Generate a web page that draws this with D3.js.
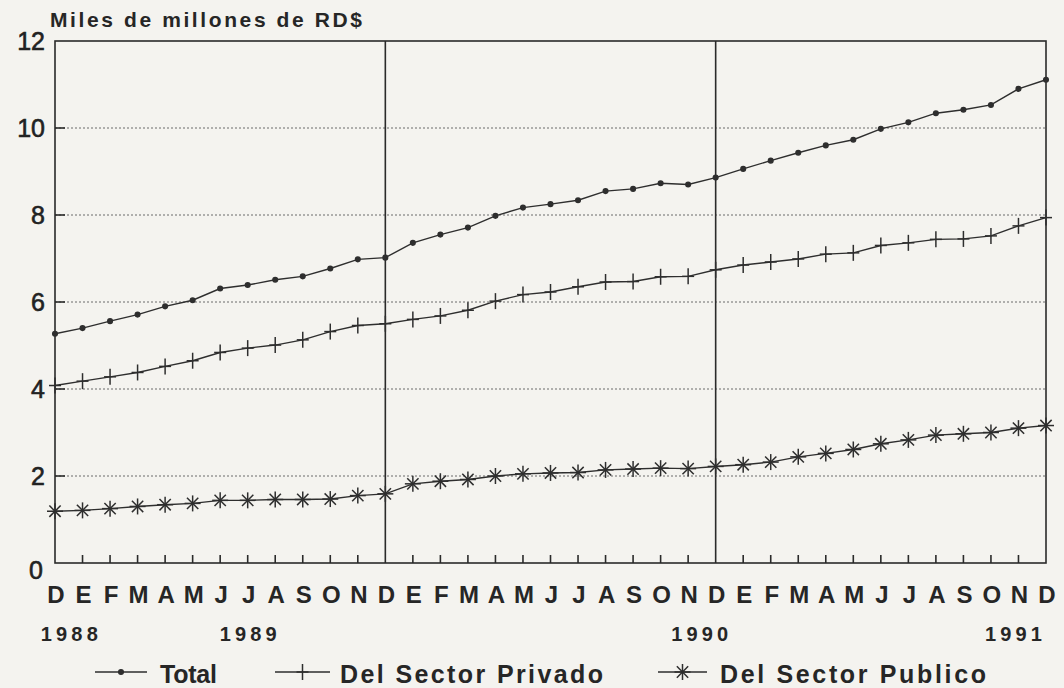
<!DOCTYPE html>
<html lang="es">
<head>
  <meta charset="utf-8">
  <script src="https://cdn.jsdelivr.net/npm/d3@7/dist/d3.min.js"></script>
  <style>
    body {
      margin: 0;
      background: #f4f3ef;
    }
    svg {
      display: block;
      font-family: "Liberation Sans", Arial, Helvetica, sans-serif;
    }
    .grid line {
      stroke: #6a6a6a;
      stroke-width: 1;
      stroke-dasharray: 2,2;
    }
    .frame {
      fill: none;
      stroke: #2a2a2a;
      stroke-width: 1.6;
    }
    .divider {
      stroke: #2a2a2a;
      stroke-width: 1.6;
    }
    .series {
      fill: none;
      stroke: #2e2e2e;
      stroke-width: 1.4;
    }
    .mark {
      stroke: #2e2e2e;
      stroke-width: 1.5;
      fill: #2e2e2e;
    }
    .ylab {
      font-size: 25px;
      fill: #222;
      stroke: #222;
      stroke-width: 0.6;
    }
    .mlab {
      font-size: 24px;
      font-weight: bold;
      fill: #262626;
    }
    .yrlab {
      font-size: 20px;
      font-weight: bold;
      fill: #262626;
    }
    .legend text {
      font-size: 25px;
      font-weight: bold;
      fill: #262626;
    }
  </style>
</head>
<body>
  <svg id="chart" width="1064" height="688"></svg>
  <script>
    // meses de dic 1988 a dic 1991
    var months = ["D","E","F","M","A","M","J","J","A","S","O","N",
                  "D","E","F","M","A","M","J","J","A","S","O","N",
                  "D","E","F","M","A","M","J","J","A","S","O","N","D"];

    var yearLabels = ["1988", "1989", "1990", "1991"];
    var yearAt = [0.5, 7, 23.4, 34.8];   // month index the year label sits under

    var yTicks = [0, 2, 4, 6, 8, 10, 12];

    var total = [5.27, 5.40, 5.56, 5.71, 5.90, 6.04, 6.31, 6.39, 6.51, 6.59, 6.77, 6.98,
                 7.02, 7.36, 7.55, 7.71, 7.98, 8.17, 8.25, 8.34, 8.55, 8.60, 8.73, 8.70,
                 8.86, 9.06, 9.25, 9.43, 9.60, 9.73, 9.98, 10.13, 10.34, 10.42, 10.53, 10.90, 11.11];

    var privado = [4.08, 4.18, 4.28, 4.38, 4.52, 4.65, 4.84, 4.94, 5.01, 5.13, 5.32, 5.46,
                   5.50, 5.60, 5.68, 5.81, 6.02, 6.17, 6.23, 6.35, 6.46, 6.47, 6.58, 6.59,
                   6.74, 6.85, 6.92, 6.99, 7.10, 7.13, 7.30, 7.36, 7.44, 7.45, 7.52, 7.75, 7.94];

    var publico = [1.19, 1.21, 1.25, 1.30, 1.34, 1.37, 1.44, 1.44, 1.46, 1.46, 1.47, 1.55,
                   1.59, 1.82, 1.88, 1.92, 2.00, 2.05, 2.07, 2.08, 2.14, 2.16, 2.18, 2.17,
                   2.22, 2.26, 2.32, 2.44, 2.52, 2.61, 2.74, 2.83, 2.94, 2.97, 3.00, 3.10, 3.16];

    var seriesNames = ["Total", "Del Sector Privado", "Del Sector Publico"];
    var dividers = [12, 24];   // year breaks drawn as solid verticals

    var svg = d3.select("#chart");
    var plotL = 55, plotR = 1046, plotT = 41, plotB = 563;

    var x = d3.scaleLinear().domain([0, months.length - 1]).range([plotL, plotR]);
    var y = d3.scaleLinear().domain([0, 12]).range([plotB, plotT]);

    var inner = yTicks.filter(function(d) { return d > 0 && d < 12; });

    // dotted gridlines
    svg.append("g").attr("class", "grid")
      .selectAll("line")
      .data(inner)
      .enter().append("line")
        .attr("x1", plotL).attr("x2", plotR)
        .attr("y1", function(d) { return y(d); })
        .attr("y2", function(d) { return y(d); });

    // short solid inner ticks on the left
    svg.append("g").selectAll("line")
      .data(inner)
      .enter().append("line")
        .attr("class", "divider")
        .attr("x1", plotL).attr("x2", plotL + 10)
        .attr("y1", function(d) { return y(d); })
        .attr("y2", function(d) { return y(d); });

    // month ticks along the bottom
    svg.append("g").selectAll("line")
      .data(d3.range(1, months.length - 1).filter(function(i) { return dividers.indexOf(i) < 0; }))
      .enter().append("line")
        .attr("class", "divider")
        .attr("x1", function(i) { return x(i); })
        .attr("x2", function(i) { return x(i); })
        .attr("y1", plotB).attr("y2", plotB - 8);

    svg.append("g").selectAll("line")
      .data(dividers)
      .enter().append("line")
        .attr("class", "divider")
        .attr("x1", function(i) { return x(i); })
        .attr("x2", function(i) { return x(i); })
        .attr("y1", plotT).attr("y2", plotB);

    svg.append("rect").attr("class", "frame")
      .attr("x", plotL).attr("y", plotT)
      .attr("width", plotR - plotL).attr("height", plotB - plotT);

    // y labels
    svg.append("g").selectAll("text")
      .data(yTicks)
      .enter().append("text")
        .attr("class", "ylab")
        .attr("x", function(d) { return d === 0 ? 43 : 45; })
        .attr("y", function(d) { return y(d) + (d === 0 ? 16 : 9); })
        .attr("text-anchor", "end")
        .text(function(d) { return d; });

    svg.append("text")
      .attr("x", 50).attr("y", 27)
      .attr("font-size", 21).attr("font-weight", "bold").attr("fill", "#262626")
      .attr("textLength", 312).attr("lengthAdjust", "spacing")
      .text("Miles de millones de RD$");

    // month letters
    svg.append("g").selectAll("text")
      .data(months)
      .enter().append("text")
        .attr("class", "mlab")
        .attr("x", function(d, i) { return x(i) + 1; })
        .attr("y", 603)
        .attr("text-anchor", "middle")
        .text(function(d) { return d; });

    svg.append("g").selectAll("text")
      .data(yearLabels)
      .enter().append("text")
        .attr("class", "yrlab")
        .attr("x", function(d, i) { return x(yearAt[i]) - 28; })
        .attr("y", 641)
        .attr("textLength", 57).attr("lengthAdjust", "spacing")
        .text(function(d) { return d; });

    // series
    var line = d3.line()
      .x(function(d, i) { return x(i); })
      .y(function(d) { return y(d); });

    [total, privado, publico].forEach(function(s) {
      svg.append("path").datum(s).attr("class", "series").attr("d", line);
    });

    function dot(g) {
      g.append("circle").attr("class", "mark").attr("r", 2.3);
    }
    function plus(g) {
      g.append("line").attr("class", "mark").attr("x1", 0).attr("x2", 0).attr("y1", -8).attr("y2", 8);
      g.append("line").attr("class", "mark").attr("x1", -6).attr("x2", 6).attr("y1", 0).attr("y2", 0);
    }
    function star(g) {
      var r = 8;
      [0, 45, 90, 135].forEach(function(a) {
        var t = a * Math.PI / 180;
        g.append("line").attr("class", "mark")
          .attr("x1", -r * Math.cos(t)).attr("y1", -r * Math.sin(t))
          .attr("x2", r * Math.cos(t)).attr("y2", r * Math.sin(t));
      });
    }
    var markers = [dot, plus, star];

    [total, privado, publico].forEach(function(s, k) {
      svg.append("g").selectAll("g")
        .data(s)
        .enter().append("g")
          .attr("transform", function(d, i) { return "translate(" + x(i) + "," + y(d) + ")"; })
          .each(function() { markers[k](d3.select(this)); });
    });

    // legend
    var legendX = [95, 275, 658];
    var legendW = [52, 55, 49];
    var textX = [160, 340, 720];
    var textW = [57, 263, 266];
    var lg = svg.append("g").attr("class", "legend");
    seriesNames.forEach(function(name, k) {
      lg.append("line").attr("class", "series")
        .attr("x1", legendX[k]).attr("x2", legendX[k] + legendW[k])
        .attr("y1", 672).attr("y2", 672);
      var m = lg.append("g").attr("transform", "translate(" + (legendX[k] + legendW[k] / 2) + ",672)");
      markers[k](m);
      lg.append("text")
        .attr("x", textX[k]).attr("y", 683)
        .attr("textLength", textW[k]).attr("lengthAdjust", "spacing")
        .text(name);
    });
  </script>
</body>
</html>
